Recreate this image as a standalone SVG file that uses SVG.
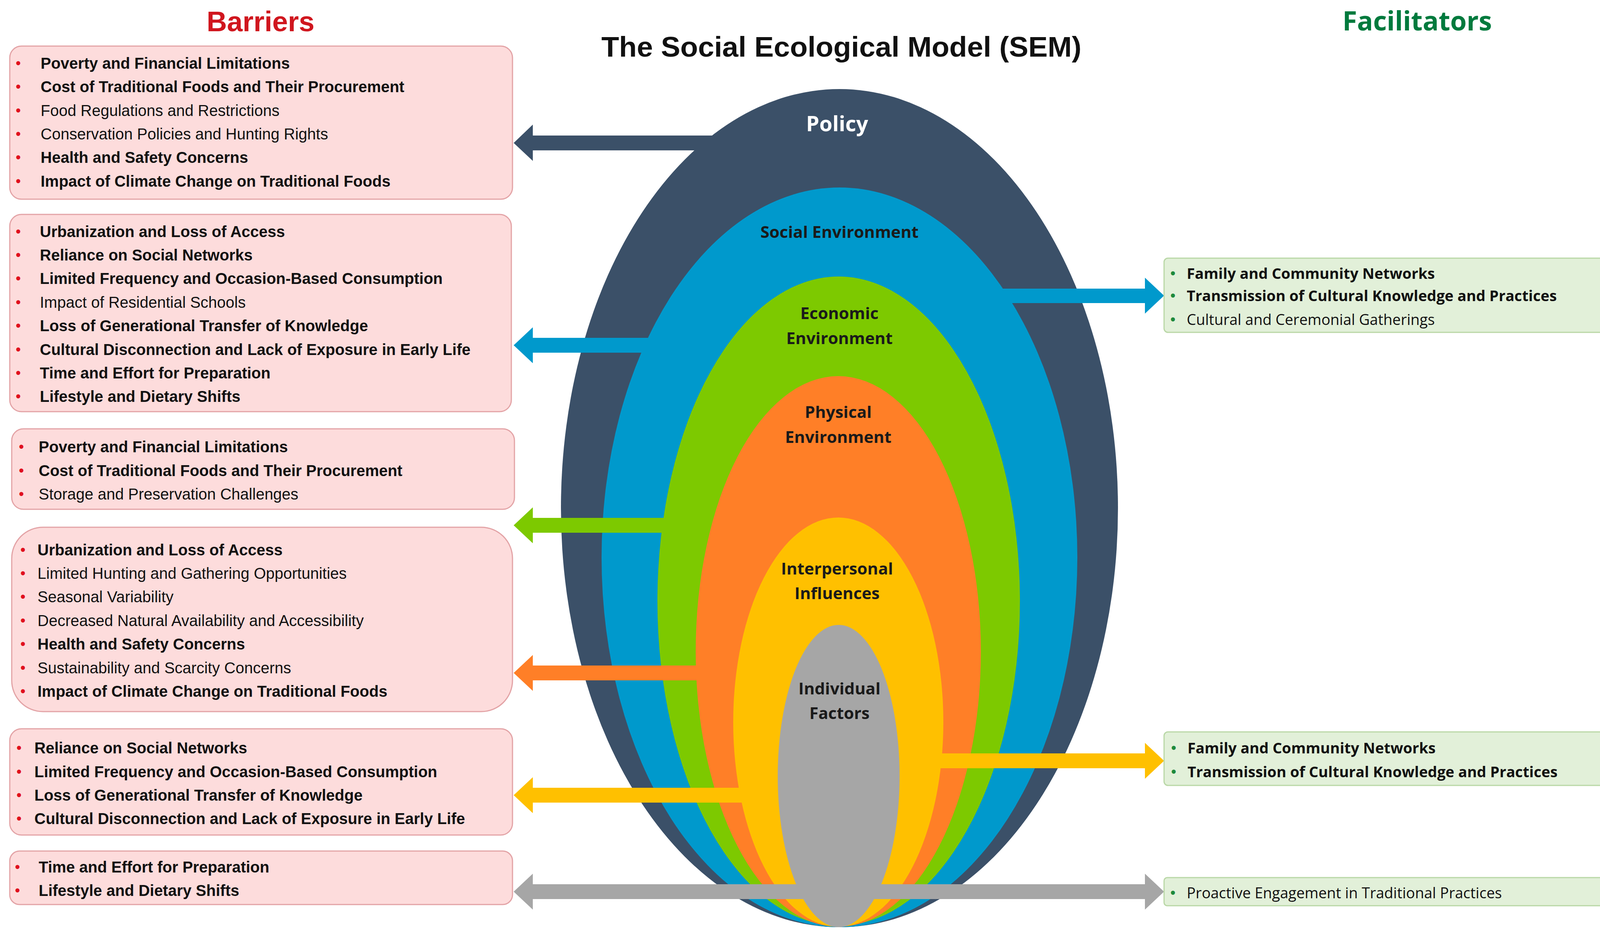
<svg xmlns="http://www.w3.org/2000/svg" width="4302" height="2394" viewBox="0 0 4302 2394">
<style>
.bx{fill:#FDDCDC;stroke:#E3A3A6;stroke-width:3}
.fx{fill:#E2F0D9;stroke:#B9D7A6;stroke-width:3}
.l{font-family:"Liberation Sans",Arial,sans-serif;font-size:40px;fill:#111}
.r{font-family:"Open Sans","Liberation Sans",sans-serif;font-size:38px;fill:#111}
.b{font-weight:bold}
.bl{fill:#E0101E;font-family:"Liberation Sans",sans-serif;font-size:38px}
.bg{fill:#1E8A3C;font-family:"Liberation Sans",sans-serif;font-size:38px}
.ring{font-family:"Open Sans","Liberation Sans",sans-serif;font-weight:bold;font-size:42px;fill:#1a1a1a;text-anchor:middle}
</style>
<rect width="4302" height="2394" fill="#fff"/>
<text x="667" y="80" font-family="Liberation Sans,sans-serif" font-weight="bold" font-size="72" fill="#D0161E" text-anchor="middle">Barriers</text>
<text x="3628" y="78" font-family="Open Sans,sans-serif" font-weight="bold" font-size="68" fill="#007A3D" text-anchor="middle">Facilitators</text>
<text x="2154" y="145" font-family="Liberation Sans,sans-serif" font-weight="bold" font-size="72" fill="#111" text-anchor="middle" textLength="1229" lengthAdjust="spacingAndGlyphs">The Social Ecological Model (SEM)</text>

<g id="model">
<g id="policy"><ellipse cx="2149" cy="1301" rx="713" ry="1073" fill="#3B5068"/></g>
<g id="connectors-policy"><path d="M1840 347 H1364 V319 L1315 366 L1364 412 V385 H1840 Z" fill="#3B5068"/></g>
<g id="social"><ellipse cx="2149" cy="1427" rx="609" ry="947" fill="#0099CC"/></g>
<g id="connectors-social"><path d="M1900 865 H1364 V838 L1315 884 L1364 930 V903 H1900 Z" fill="#0099CC"/>
<path d="M2400 739 H2931 V711 L2980 757 L2931 803 V776 H2400 Z" fill="#0099CC"/></g>
<g id="economic"><ellipse cx="2147" cy="1539" rx="464" ry="831" fill="#7DC900"/></g>
<g id="connectors-economic"><path d="M1900 1326 H1364 V1299 L1315 1345 L1364 1391 V1364 H1900 Z" fill="#7DC900"/></g>
<g id="physical"><ellipse cx="2146" cy="1668" rx="365" ry="705" fill="#FF7F27"/></g>
<g id="connectors-physical"><path d="M2000 1704 H1364 V1677 L1315 1723 L1364 1769 V1742 H2000 Z" fill="#FF7F27"/></g>
<g id="interpersonal"><ellipse cx="2146" cy="1849" rx="269" ry="524" fill="#FFC000"/></g>
<g id="connectors-interpersonal"><path d="M2100 2017 H1364 V1990 L1315 2036 L1364 2082 V2055 H2100 Z" fill="#FFC000"/>
<path d="M2200 1929 H2931 V1902 L2980 1948 L2931 1994 V1967 H2200 Z" fill="#FFC000"/></g>
<g id="individual"><ellipse cx="2147" cy="1987" rx="156" ry="387" fill="#A6A6A6"/></g>
<g id="connectors-individual"><path d="M1364 2264 H2931 V2237 L2980 2283 L2931 2329 V2302 H1364 V2329 L1315 2283 L1364 2237 Z" fill="#A6A6A6"/></g>
<text x="2143" y="336" class="ring" style="fill:#fff;font-size:54px">Policy</text>
<text x="2149" y="609" class="ring">Social Environment</text>
<text x="2149" y="817" class="ring">Economic</text><text x="2149" y="881" class="ring">Environment</text>
<text x="2146" y="1070" class="ring">Physical</text><text x="2146" y="1134" class="ring">Environment</text>
<text x="2143" y="1471" class="ring">Interpersonal</text><text x="2143" y="1534" class="ring">Influences</text>
<text x="2149" y="1778" class="ring">Individual</text><text x="2149" y="1841" class="ring">Factors</text>
</g>

<g id="barriers-policy">
<rect class="bx" x="25" y="118" width="1287" height="392" rx="30"/>
<g class="bl"><text x="40" y="175">•</text><text x="40" y="235">•</text><text x="40" y="296">•</text><text x="40" y="356">•</text><text x="40" y="416">•</text><text x="40" y="477">•</text></g>
<text x="104" y="176" class="l b">Poverty and Financial Limitations</text>
<text x="104" y="236" class="l b">Cost of Traditional Foods and Their Procurement</text>
<text x="104" y="297" class="l">Food Regulations and Restrictions</text>
<text x="104" y="357" class="l">Conservation Policies and Hunting Rights</text>
<text x="104" y="417" class="l b">Health and Safety Concerns</text>
<text x="104" y="478" class="l b">Impact of Climate Change on Traditional Foods</text>
</g>

<g id="barriers-social">
<rect class="bx" x="25" y="549" width="1284" height="505" rx="30"/>
<g class="bl"><text x="40" y="606">•</text><text x="40" y="666">•</text><text x="40" y="726">•</text><text x="40" y="787">•</text><text x="40" y="847">•</text><text x="40" y="908">•</text><text x="40" y="968">•</text><text x="40" y="1028">•</text></g>
<text x="102" y="607" class="l b">Urbanization and Loss of Access</text>
<text x="102" y="667" class="l b">Reliance on Social Networks</text>
<text x="102" y="727" class="l b">Limited Frequency and Occasion-Based Consumption</text>
<text x="102" y="788" class="l">Impact of Residential Schools</text>
<text x="102" y="848" class="l b">Loss of Generational Transfer of Knowledge</text>
<text x="102" y="909" class="l b">Cultural Disconnection and Lack of Exposure in Early Life</text>
<text x="102" y="969" class="l b">Time and Effort for Preparation</text>
<text x="102" y="1029" class="l b">Lifestyle and Dietary Shifts</text>
</g>

<g id="barriers-economic">
<rect class="bx" x="30" y="1098" width="1287" height="206" rx="30"/>
<g class="bl"><text x="48" y="1157">•</text><text x="48" y="1218">•</text><text x="48" y="1278">•</text></g>
<text x="99" y="1158" class="l b">Poverty and Financial Limitations</text>
<text x="99" y="1219" class="l b">Cost of Traditional Foods and Their Procurement</text>
<text x="99" y="1279" class="l">Storage and Preservation Challenges</text>
</g>

<g id="barriers-physical">
<rect class="bx" x="30" y="1350" width="1282" height="472" rx="80"/>
<g class="bl"><text x="52" y="1421">•</text><text x="52" y="1481">•</text><text x="52" y="1541">•</text><text x="52" y="1602">•</text><text x="52" y="1662">•</text><text x="52" y="1723">•</text><text x="52" y="1783">•</text></g>
<text x="96" y="1422" class="l b">Urbanization and Loss of Access</text>
<text x="96" y="1482" class="l">Limited Hunting and Gathering Opportunities</text>
<text x="96" y="1542" class="l">Seasonal Variability</text>
<text x="96" y="1603" class="l">Decreased Natural Availability and Accessibility</text>
<text x="96" y="1663" class="l b">Health and Safety Concerns</text>
<text x="96" y="1724" class="l">Sustainability and Scarcity Concerns</text>
<text x="96" y="1784" class="l b">Impact of Climate Change on Traditional Foods</text>
</g>

<g id="barriers-interpersonal">
<rect class="bx" x="25" y="1866" width="1287" height="272" rx="30"/>
<g class="bl"><text x="42" y="1928">•</text><text x="42" y="1989">•</text><text x="42" y="2049">•</text><text x="42" y="2109">•</text></g>
<text x="88" y="1929" class="l b">Reliance on Social Networks</text>
<text x="88" y="1990" class="l b">Limited Frequency and Occasion-Based Consumption</text>
<text x="88" y="2050" class="l b">Loss of Generational Transfer of Knowledge</text>
<text x="88" y="2110" class="l b">Cultural Disconnection and Lack of Exposure in Early Life</text>
</g>

<g id="barriers-individual">
<rect class="bx" x="25" y="2179" width="1287" height="137" rx="25"/>
<g class="bl"><text x="38" y="2233">•</text><text x="38" y="2293">•</text></g>
<text x="99" y="2234" class="l b">Time and Effort for Preparation</text>
<text x="99" y="2294" class="l b">Lifestyle and Dietary Shifts</text>
</g>

<g id="facilitators-social">
<rect class="fx" x="2980" y="661" width="1292" height="190" rx="10"/>
<g class="bg"><text x="2996" y="713">•</text><text x="2996" y="770">•</text><text x="2996" y="831">•</text></g>
<text x="3038" y="714" class="r b">Family and Community Networks</text>
<text x="3038" y="771" class="r b">Transmission of Cultural Knowledge and Practices</text>
<text x="3038" y="832" class="r">Cultural and Ceremonial Gatherings</text>
</g>

<g id="facilitators-interpersonal">
<rect class="fx" x="2980" y="1874" width="1292" height="137" rx="10"/>
<g class="bg"><text x="2998" y="1928">•</text><text x="2998" y="1989">•</text></g>
<text x="3040" y="1929" class="r b">Family and Community Networks</text>
<text x="3040" y="1990" class="r b">Transmission of Cultural Knowledge and Practices</text>
</g>

<g id="facilitators-individual">
<rect class="fx" x="2980" y="2247" width="1292" height="72" rx="8"/>
<g class="bg"><text x="2996" y="2299">•</text></g>
<text x="3038" y="2300" class="r">Proactive Engagement in Traditional Practices</text>
</g>
</svg>
